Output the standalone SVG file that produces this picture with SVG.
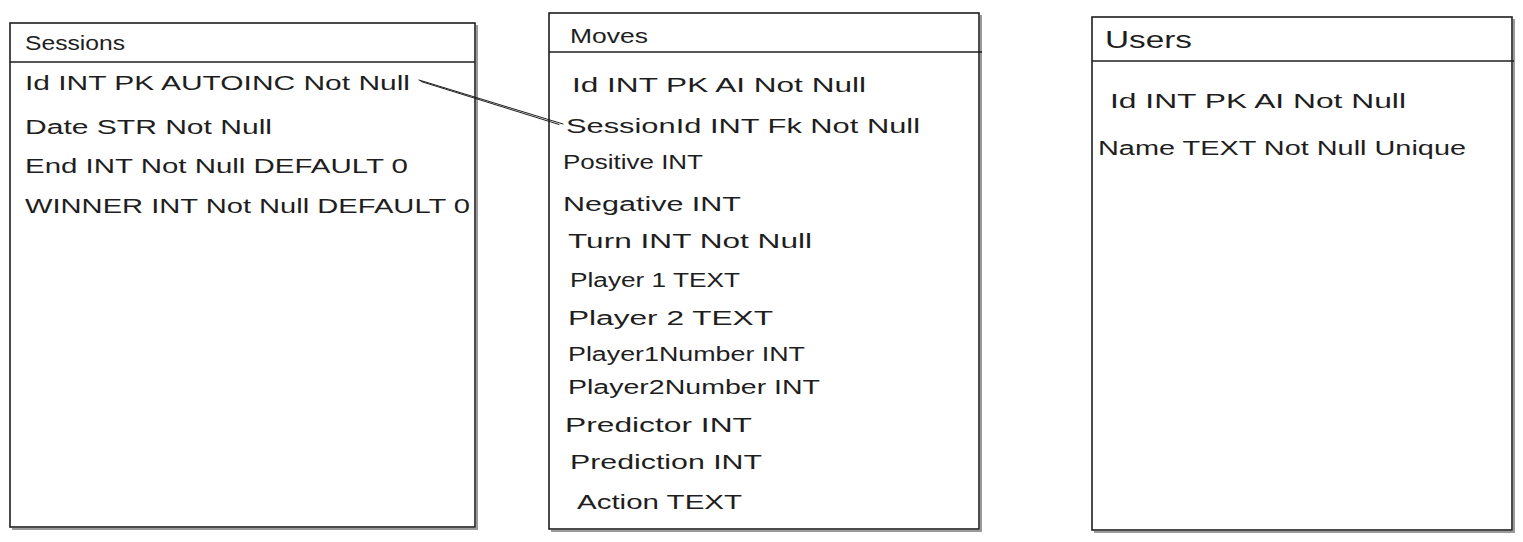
<svg xmlns="http://www.w3.org/2000/svg" width="1523" height="542" viewBox="0 0 1523 542">
<style>
.box{fill:#fff;stroke:#1e1e1e;stroke-width:1.6}
.sh{fill:none;stroke:#9a9a9a;stroke-width:2}
.hd{stroke:#1e1e1e;stroke-width:1.6}
text{font-family:"Liberation Sans","DejaVu Sans",sans-serif;font-size:20px;fill:#1e1e1e}
.tu{font-size:24px}
.conn{fill:none;stroke:#1e1e1e;stroke-width:1;stroke-linecap:round}
</style>
<rect width="1523" height="542" fill="#fff"/>
<g id="sessions">
<path class="sh" d="M12 529 H477 V25"/>
<rect class="box" x="10" y="23" width="465" height="504"/>
<line class="hd" x1="10" y1="62" x2="475" y2="62"/>
<text x="25" y="50" textLength="100" lengthAdjust="spacingAndGlyphs">Sessions</text>
<text x="25" y="90" textLength="385" lengthAdjust="spacingAndGlyphs">Id INT PK AUTOINC Not Null</text>
<text x="25" y="134" textLength="247" lengthAdjust="spacingAndGlyphs">Date STR Not Null</text>
<text x="25" y="173" textLength="383" lengthAdjust="spacingAndGlyphs">End INT Not Null DEFAULT 0</text>
<text x="25" y="213" textLength="445" lengthAdjust="spacingAndGlyphs">WINNER INT Not Null DEFAULT 0</text>
</g>
<g id="moves">
<path class="sh" d="M551 531 H981 V15"/>
<rect class="box" x="549" y="13" width="430" height="516"/>
<line class="hd" x1="549" y1="52" x2="982" y2="52"/>
<text x="570" y="43" textLength="78" lengthAdjust="spacingAndGlyphs">Moves</text>
<text x="572" y="92" textLength="294" lengthAdjust="spacingAndGlyphs">Id INT PK AI Not Null</text>
<text x="566" y="133" textLength="354" lengthAdjust="spacingAndGlyphs">SessionId INT Fk Not Null</text>
<text x="563" y="169" textLength="140" lengthAdjust="spacingAndGlyphs">Positive INT</text>
<text x="563" y="211" textLength="178" lengthAdjust="spacingAndGlyphs">Negative INT</text>
<text x="568" y="248" textLength="244" lengthAdjust="spacingAndGlyphs">Turn INT Not Null</text>
<text x="570" y="287" textLength="170" lengthAdjust="spacingAndGlyphs">Player 1 TEXT</text>
<text x="568" y="325" textLength="205" lengthAdjust="spacingAndGlyphs">Player 2 TEXT</text>
<text x="568" y="361" textLength="237" lengthAdjust="spacingAndGlyphs">Player1Number INT</text>
<text x="568" y="394" textLength="252" lengthAdjust="spacingAndGlyphs">Player2Number INT</text>
<text x="565" y="432" textLength="187" lengthAdjust="spacingAndGlyphs">Predictor INT</text>
<text x="570" y="469" textLength="192" lengthAdjust="spacingAndGlyphs">Prediction INT</text>
<text x="577" y="509" textLength="165" lengthAdjust="spacingAndGlyphs">Action TEXT</text>
</g>
<g id="users">
<path class="sh" d="M1094 532 H1514 V19"/>
<rect class="box" x="1092" y="17" width="420" height="513"/>
<line class="hd" x1="1092" y1="61" x2="1514" y2="61"/>
<text class="tu" x="1105" y="48" textLength="87" lengthAdjust="spacingAndGlyphs">Users</text>
<text x="1110" y="108" textLength="296" lengthAdjust="spacingAndGlyphs">Id INT PK AI Not Null</text>
<text x="1098" y="155" textLength="368" lengthAdjust="spacingAndGlyphs">Name TEXT Not Null Unique</text>
</g>
<g id="connectors">
<path class="conn" d="M419 80 L563 124"/>
<path class="conn" d="M421 81.5 L559 124.5" stroke-width="0.7"/>
</g>
</svg>
